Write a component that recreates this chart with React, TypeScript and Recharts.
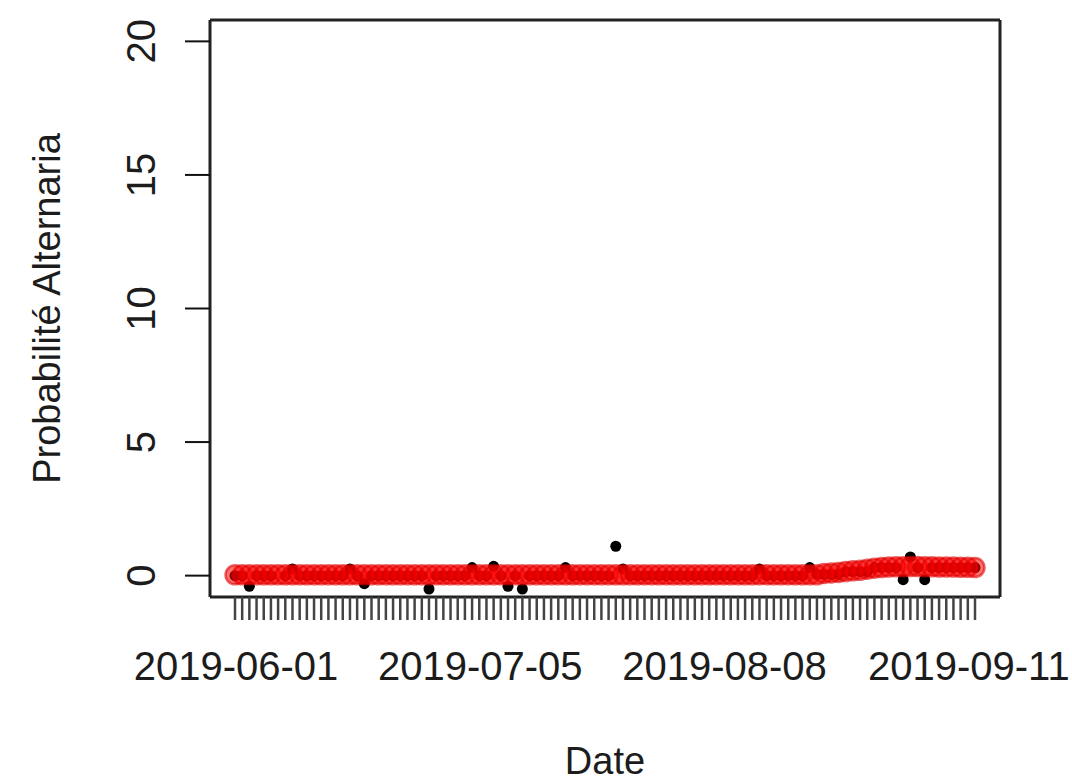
import React from 'react';
import { ComposedChart, Scatter, XAxis, YAxis, Label } from 'recharts';

const dates: string[] = [
  '2019-06-01','2019-06-02','2019-06-03','2019-06-04','2019-06-05','2019-06-06','2019-06-07','2019-06-08','2019-06-09','2019-06-10',
  '2019-06-11','2019-06-12','2019-06-13','2019-06-14','2019-06-15','2019-06-16','2019-06-17','2019-06-18','2019-06-19','2019-06-20',
  '2019-06-21','2019-06-22','2019-06-23','2019-06-24','2019-06-25','2019-06-26','2019-06-27','2019-06-28','2019-06-29','2019-06-30',
  '2019-07-01','2019-07-02','2019-07-03','2019-07-04','2019-07-05','2019-07-06','2019-07-07','2019-07-08','2019-07-09','2019-07-10',
  '2019-07-11','2019-07-12','2019-07-13','2019-07-14','2019-07-15','2019-07-16','2019-07-17','2019-07-18','2019-07-19','2019-07-20',
  '2019-07-21','2019-07-22','2019-07-23','2019-07-24','2019-07-25','2019-07-26','2019-07-27','2019-07-28','2019-07-29','2019-07-30',
  '2019-07-31','2019-08-01','2019-08-02','2019-08-03','2019-08-04','2019-08-05','2019-08-06','2019-08-07','2019-08-08','2019-08-09',
  '2019-08-10','2019-08-11','2019-08-12','2019-08-13','2019-08-14','2019-08-15','2019-08-16','2019-08-17','2019-08-18','2019-08-19',
  '2019-08-20','2019-08-21','2019-08-22','2019-08-23','2019-08-24','2019-08-25','2019-08-26','2019-08-27','2019-08-28','2019-08-29',
  '2019-08-30','2019-08-31','2019-09-01','2019-09-02','2019-09-03','2019-09-04','2019-09-05','2019-09-06','2019-09-07','2019-09-08',
  '2019-09-09','2019-09-10','2019-09-11','2019-09-12',
];

const observed: number[] = [
  0, 0, -0.4, 0, 0, 0, -1.0, 0, 0.25, 0,
  0, 0, 0, 0, 0, 0, 0.25, 0, -0.3, 0,
  0, 0, 0, 0, 0, 0, 0, -0.5, 0, 0,
  0, 0, 0, 0.3, 0, 0, 0.35, 0, -0.4, 0,
  -0.5, 0, 0, 0, 0, 0, 0.3, 0, 0, 0,
  0, 0, 0, 1.1, 0.25, 0, 0, 0, 0, 0,
  0, 0, 0, 0, 0, 0, 0, 0, 0, 0,
  0, 0, 0, 0.25, 0, 0, 0, 0, 0, 0,
  0.3, 0.05, 0.05, 0.05, 0.05, 0.15, 0.15, 0.15, 0.15, 0.3,
  0.3, 0.3, 0.3, -0.15, 0.7, 0.3, -0.15, 0.3, 0.3, 0.3,
  0.3, 0.3, 0.3, 0.3,
];

const predicted: number[] = [
  0.03, 0.03, 0.03, 0.03, 0.03, 0.03, 0.03, 0.03, 0.03, 0.03,
  0.03, 0.03, 0.03, 0.03, 0.03, 0.03, 0.03, 0.03, 0.03, 0.03,
  0.03, 0.03, 0.03, 0.03, 0.03, 0.03, 0.03, 0.03, 0.03, 0.03,
  0.03, 0.03, 0.03, 0.03, 0.03, 0.03, 0.03, 0.03, 0.03, 0.03,
  0.03, 0.03, 0.03, 0.03, 0.03, 0.03, 0.03, 0.03, 0.03, 0.03,
  0.03, 0.03, 0.03, 0.03, 0.03, 0.03, 0.03, 0.03, 0.03, 0.03,
  0.03, 0.03, 0.03, 0.03, 0.03, 0.03, 0.03, 0.03, 0.03, 0.03,
  0.03, 0.03, 0.03, 0.03, 0.03, 0.03, 0.03, 0.03, 0.03, 0.03,
  0.03, 0.03, 0.08, 0.1, 0.12, 0.15, 0.18, 0.2, 0.24, 0.28,
  0.3, 0.32, 0.33, 0.33, 0.34, 0.34, 0.33, 0.33, 0.32, 0.32,
  0.32, 0.31, 0.31, 0.3,
];

const xTickLabels: string[] = ['2019-06-01', '2019-07-05', '2019-08-08', '2019-09-11'];
const yTicks: number[] = [0, 5, 10, 15, 20];

const data = dates.map((d, i) => ({ date: d, observed: observed[i], predicted: predicted[i] }));

const FONT = '"Liberation Sans", Arial, Helvetica, sans-serif';
const TEXT = '#1c1c1c';
const BOX = '#222';

const XTick = (props: any) => {
  const { x, y, payload } = props;
  if (!xTickLabels.includes(payload.value)) return null;
  return (
    <text x={x + 1} y={y + 60} textAnchor="middle" fontSize={40} fontFamily={FONT} fill={TEXT}>
      {payload.value}
    </text>
  );
};

const YTick = (props: any) => {
  const { x, y, payload } = props;
  const bx = x - 30;
  return (
    <text x={bx} y={y} transform={`rotate(-90, ${bx}, ${y})`} textAnchor="middle" fontSize={40} fontFamily={FONT} fill={TEXT}>
      {payload.value}
    </text>
  );
};

const ObsShape = (props: any) => <circle cx={props.cx} cy={props.cy} r={5.5} fill="#000" />;
const PredShape = (props: any) => (
  <circle cx={props.cx} cy={props.cy} r={9.5} fill="#ff0000" fillOpacity={0.55} stroke="#e00000" strokeOpacity={0.6} strokeWidth={2.5} />
);

export default function App() {
  return (
    <div style={{ position: 'absolute', left: 0, top: 0, background: '#fff' }}>
      <ComposedChart width={1072} height={784} data={data} margin={{ top: 19, right: 71, bottom: 0, left: 0 }}>
        <XAxis
          dataKey="date"
          type="category"
          interval={0}
          height={187}
          padding={{ left: 25, right: 25 }}
          tickSize={23}
          tickMargin={0}
          tickLine={{ stroke: '#444', strokeWidth: 2.5 }}
          axisLine={{ stroke: BOX, strokeWidth: 3 }}
          tick={<XTick />}
        >
          <Label
            content={(p: any) => {
              const vb = p.viewBox || { x: 210, width: 790 };
              return (
                <text x={vb.x + vb.width / 2} y={774} textAnchor="middle" fontSize={38} fontFamily={FONT} fill={TEXT}>
                  Date
                </text>
              );
            }}
          />
        </XAxis>
        <XAxis xAxisId="top" dataKey="date" type="category" orientation="top" height={1} interval={0} tick={false} tickLine={false} axisLine={{ stroke: BOX, strokeWidth: 3 }} padding={{ left: 25, right: 25 }} />
        <YAxis
          type="number"
          domain={[-0.8, 20.8]}
          ticks={yTicks}
          allowDataOverflow
          width={210}
          tickSize={25}
          tickMargin={0}
          tickLine={{ stroke: '#111', strokeWidth: 2 }}
          axisLine={{ stroke: BOX, strokeWidth: 3 }}
          tick={<YTick />}
        >
          <Label
            content={(p: any) => {
              const vb = p.viewBox || { y: 20, height: 577 };
              const cy = vb.y + vb.height / 2;
              return (
                <text x={60} y={cy} transform={`rotate(-90, 60, ${cy})`} textAnchor="middle" fontSize={38} fontFamily={FONT} fill={TEXT}>
                  Probabilité Alternaria
                </text>
              );
            }}
          />
        </YAxis>
        <YAxis yAxisId="right" orientation="right" type="number" domain={[-0.8, 20.8]} allowDataOverflow width={1} tick={false} tickLine={false} axisLine={{ stroke: BOX, strokeWidth: 3 }} />
        <Scatter dataKey="observed" isAnimationActive={false} shape={<ObsShape />} />
        <Scatter dataKey="predicted" isAnimationActive={false} shape={<PredShape />} />
        <Scatter dataKey="predicted" xAxisId="top" yAxisId="right" isAnimationActive={false} shape={() => <g />} legendType="none" />
      </ComposedChart>
    </div>
  );
}
